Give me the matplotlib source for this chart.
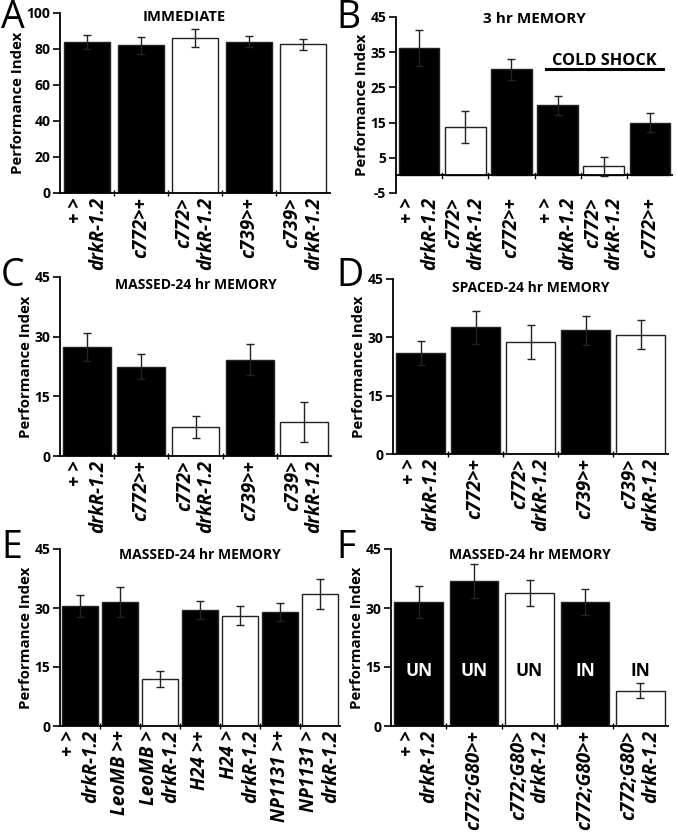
import numpy as np
import matplotlib
matplotlib.use('Agg')
import matplotlib.pyplot as plt

plt.rcParams['font.family'] = ['Open Sans', 'DejaVu Sans']
plt.rcParams['font.weight'] = 'bold'

W, H = 677, 833

# ---- data ----
labels_a = ['+ >\ndrkR-1.2', 'c772>+', 'c772>\ndrkR-1.2', 'c739>+', 'c739>\ndrkR-1.2']
vals_a = [84, 82, 86.3, 84, 82.5]
errs_a = [4, 4.6, 5, 3, 3]
fill_a = ['k', 'k', 'w', 'k', 'w']

labels_b = ['+ >\ndrkR-1.2', 'c772>\ndrkR-1.2', 'c772>+', '+ >\ndrkR-1.2', 'c772>\ndrkR-1.2', 'c772>+']
vals_b = [36.2, 13.7, 30.2, 19.9, 2.6, 14.9]
errs_b = [5, 4.5, 3, 2.7, 2.7, 2.7]
fill_b = ['k', 'w', 'k', 'k', 'w', 'k']
cold_shock = (3, 5)

labels_c = labels_a
vals_c = [27.4, 22.5, 7.3, 24.2, 8.5]
errs_c = [3.5, 3.2, 2.7, 3.9, 5]
fill_c = ['k', 'k', 'w', 'k', 'w']

labels_d = labels_a
vals_d = [26, 32.6, 28.8, 31.8, 30.7]
errs_d = [3.1, 4.2, 4.3, 3.7, 3.8]
fill_d = ['k', 'k', 'w', 'k', 'w']

labels_e = ['+ >\ndrkR-1.2', 'LeoMB >+', 'LeoMB >\ndrkR-1.2', 'H24 >+', 'H24 >\ndrkR-1.2',
            'NP1131 >+', 'NP1131 >\ndrkR-1.2']
vals_e = [30.6, 31.5, 11.9, 29.4, 28, 29, 33.6]
errs_e = [2.8, 3.9, 2, 2.3, 2.4, 2.3, 3.8]
fill_e = ['k', 'k', 'w', 'k', 'w', 'k', 'w']

labels_f = ['+ >\ndrkR-1.2', 'c772;G80>+', 'c772;G80>\ndrkR-1.2', 'c772;G80>+', 'c772;G80>\ndrkR-1.2']
vals_f = [31.5, 36.8, 33.8, 31.5, 9]
errs_f = [4, 4.3, 3.3, 3.3, 2]
fill_f = ['k', 'k', 'w', 'k', 'w']
tags_f = ['UN', 'UN', 'UN', 'IN', 'IN']


fig = plt.figure(figsize=(W / 100, H / 100), dpi=100)


def px_axes(l, t, r, b):
    return fig.add_axes([l / W, 1 - b / H, (r - l) / W, (b - t) / H])


def bar_panel(ax, labels, vals, errs, fills, ylim, yticks, title, tx=0.5, ty=0.96,
              width=0.88, tsize=10.0):
    n = len(vals)
    x = np.arange(n)
    ax.bar(x, vals, width=width, color=fills, edgecolor='#222222', linewidth=1.0, zorder=2)
    ax.errorbar(x, vals, yerr=errs, fmt='none', ecolor='#222222', elinewidth=1.0,
                capsize=3, capthick=1.0, zorder=3)
    ax.set_xlim(-0.5, n - 0.5)
    ax.set_ylim(*ylim)
    ax.set_yticks(yticks)
    ax.set_yticklabels([str(t) for t in yticks], fontsize=10, fontweight='bold')
    ax.tick_params(axis='y', direction='out', length=5, width=1.2, pad=2)
    ax.set_xticks(x)
    ax.set_xticklabels(labels, rotation=90, fontsize=13.5, fontweight='bold', style='italic',
                       va='top', ha='center', multialignment='right', linespacing=1.1)
    ax.tick_params(axis='x', length=0, pad=3)
    ax.set_xticks(np.arange(n - 1) + 0.5, minor=True)
    ax.tick_params(axis='x', which='minor', direction='inout', length=5, width=1.0)
    for s in ['top', 'right']:
        ax.spines[s].set_visible(False)
    ax.spines['left'].set_linewidth(1.3)
    ax.spines['bottom'].set_linewidth(1.3)
    ax.set_ylabel('Performance Index', fontsize=10.8, fontweight='bold', labelpad=1)
    ax.text(tx, ty, title, transform=ax.transAxes, ha='center', va='center',
            fontsize=tsize, fontweight='bold')


# A
axA = px_axes(60, 13, 330, 193)
bar_panel(axA, labels_a, vals_a, errs_a, fill_a, (0, 100), [0, 20, 40, 60, 80, 100],
          'IMMEDIATE', tx=0.46, ty=0.975, width=0.86, tsize=10.6)

# B
axB = px_axes(396, 17, 673, 193)
bar_panel(axB, labels_b, vals_b, errs_b, fill_b, (-5, 45), [-5, 5, 15, 25, 35, 45],
          '3 hr MEMORY', ty=0.99, tsize=11.0)
axB.spines['bottom'].set_visible(False)
axB.tick_params(axis='x', which='minor', length=0)
axB.axhline(0, color='k', linewidth=1.3, zorder=4)
for b in np.arange(len(vals_b) - 1) + 0.5:
    axB.plot([b, b], [-0.7, 0.7], color='k', linewidth=1.0, zorder=4)
xs0, xs1 = cold_shock[0] - 0.25, cold_shock[1] + 0.28
axB.plot([xs0, xs1], [30.1, 30.1], color='k', linewidth=2.2, clip_on=False)
axB.text((xs0 + xs1) / 2, 32.4, 'COLD SHOCK', ha='center', va='center',
         fontsize=11.7, fontweight='bold')

# C
axC = px_axes(60, 277, 331, 456)
bar_panel(axC, labels_c, vals_c, errs_c, fill_c, (0, 45), [0, 15, 30, 45],
          'MASSED-24 hr MEMORY', ty=0.955)

# D
axD = px_axes(393, 279, 668, 454)
bar_panel(axD, labels_d, vals_d, errs_d, fill_d, (0, 45), [0, 15, 30, 45],
          'SPACED-24 hr MEMORY', ty=0.95)

# E
axE = px_axes(60, 549, 340, 726)
bar_panel(axE, labels_e, vals_e, errs_e, fill_e, (0, 45), [0, 15, 30, 45],
          'MASSED-24 hr MEMORY', ty=0.966)

# F
axF = px_axes(391, 549, 668, 726)
bar_panel(axF, labels_f, vals_f, errs_f, fill_f, (0, 45), [0, 15, 30, 45],
          'MASSED-24 hr MEMORY', ty=0.966)
for i, (t, c) in enumerate(zip(tags_f, fill_f)):
    axF.text(i, 14, t, ha='center', va='center', fontsize=12.5, fontweight='bold',
             color='w' if c == 'k' else 'k', zorder=5)

# panel letters
for letter, (lx, ly) in zip('ABCDEF', [(1, 18), (336, 18), (1, 276), (336, 276), (1, 548), (336, 548)]):
    fig.text(lx / W, 1 - ly / H, letter, fontsize=27, fontweight='normal', ha='left', va='center')

fig.savefig('out.png', dpi=100)
